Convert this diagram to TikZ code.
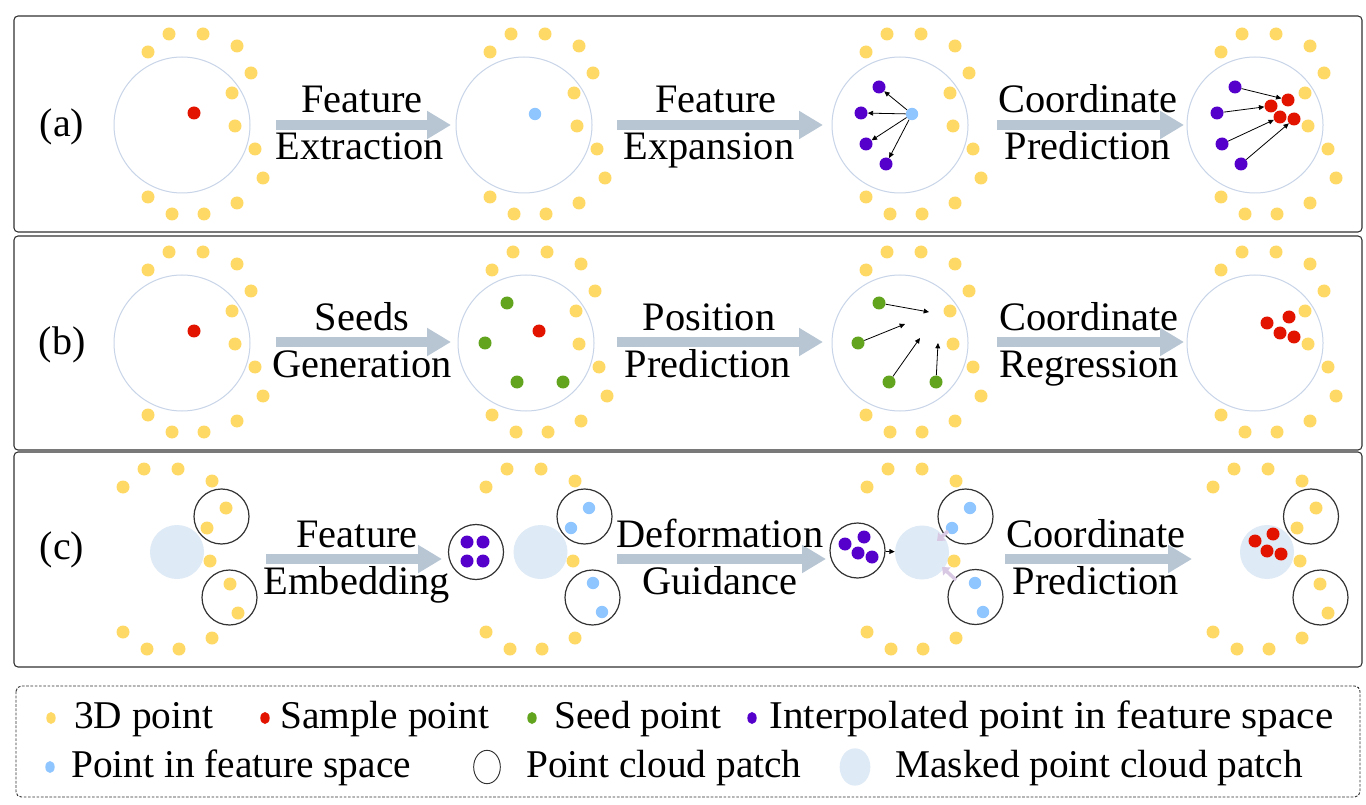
\documentclass[tikz,border=0pt]{standalone}
\usepackage{fontspec}
\setmainfont{Liberation Serif}
\usetikzlibrary{arrows.meta,shapes.geometric}
\definecolor{cyel}{RGB}{255,217,102}
\definecolor{cred}{RGB}{226,20,0}
\definecolor{cgreen}{RGB}{99,164,30}
\definecolor{cpurp}{RGB}{86,0,204}
\definecolor{cblue}{RGB}{143,198,255}
\definecolor{cmask}{RGB}{222,234,246}
\definecolor{cring}{RGB}{200,212,232}
\definecolor{carrow}{RGB}{184,198,212}
\definecolor{clav}{RGB}{216,200,228}
\definecolor{cdark}{RGB}{50,50,50}
\def\ringall{1/-34/-73,2/-13/-91,3/21/-91,4/55/-79,5/69/-52,6/50/-32,7/53/1,8/73/24,9/81/53,10/55/78,11/22/89,12/-10/89,13/-34/72}
\def\ringpart{1/-34/-73,2/-13/-91,3/21/-91,4/55/-79,7/53/1,10/55/78,11/22/89,12/-10/89,13/-34/72}
\newcommand\yring[2]{\foreach \i/\dx/\dy in #2 {\node[ydot] (#1y\i) at (\dx,\dy) {};}}
\begin{document}
\begin{tikzpicture}[x=0.75pt,y=-0.75pt,
  dot/.style={circle, inner sep=0pt, minimum size=9.75pt},
  ydot/.style={dot, fill=cyel},
  rdot/.style={dot, fill=cred},
  gdot/.style={dot, fill=cgreen},
  pdot/.style={dot, fill=cpurp},
  bdot/.style={dot, fill=cblue, minimum size=9.3pt},
  bigc/.style={circle, draw=cring, line width=0.75pt, minimum size=102pt, inner sep=0pt},
  patch/.style={circle, draw=cdark, line width=0.9pt, minimum size=41.25pt, inner sep=0pt},
  masked/.style={circle, fill=cmask, minimum size=40.5pt, inner sep=0pt},
  bigarrow/.style={draw=carrow, line width=7pt, -{Triangle[length=18pt,width=20pt]}},
  sarrow/.style={draw=black, line width=0.6pt, -{Triangle[length=4pt,width=3.6pt]}},
  lavarrow/.style={draw=clav, line width=2.6pt, -{Triangle[length=5pt,width=8pt]}},
  lbl/.style={font=\fontsize{30.3}{36}\selectfont, anchor=base, inner sep=0pt},
  plabel/.style={font=\fontsize{30}{36}\selectfont, inner sep=0pt},
  leg/.style={font=\fontsize{29.5}{35}\selectfont, anchor=base west, inner sep=0pt},
  legdot/.style={ellipse, inner sep=0pt, minimum width=7pt, minimum height=9pt},
  panel/.style={draw=cdark, rounded corners=3pt, line width=0.8pt},
  legbox/.style={draw=cdark, rounded corners=4pt, line width=0.7pt, dash pattern=on 2pt off 1.2pt}
]
\useasboundingbox (0,0) rectangle (1366,805);
\fill[white] (0,0) rectangle (1366,805);

% panel frames
\draw[panel] (14,16) rectangle (1362,232);
\draw[panel] (14,236) rectangle (1362,450);
\draw[panel] (14,452) rectangle (1362,667);
\node[plabel] (la) at (62,127) {(a)};
\node[plabel] (lb) at (62,345) {(b)};
\node[plabel] (lc) at (62,550) {(c)};

% ================= panel (a)
\begin{scope}[shift={(182,125)}]
  \node[bigc] (a1c) at (0,0) {};
  \yring{a1}{\ringall}
  \node[rdot] (a1r) at (12,-12) {};
\end{scope}
\begin{scope}[shift={(524,125)}]
  \node[bigc] (a2c) at (0,0) {};
  \yring{a2}{\ringall}
  \node[bdot] (a2b) at (11,-11) {};
\end{scope}
\begin{scope}[shift={(900,125)}]
  \node[bigc] (a3c) at (0,0) {};
  \yring{a3}{\ringall}
  \node[bdot] (a3b) at (12,-11) {};
  \node[pdot] (a3p1) at (-21,-38) {};
  \node[pdot] (a3p2) at (-39,-12) {};
  \node[pdot] (a3p3) at (-34,19) {};
  \node[pdot] (a3p4) at (-14,39) {};
\end{scope}
\foreach \k in {1,...,4} {\draw[sarrow] (a3b) -- (a3p\k);}
\begin{scope}[shift={(1255,125)}]
  \node[bigc] (a4c) at (0,0) {};
  \yring{a4}{\ringall}
  \node[pdot] (a4p1) at (-20,-38) {};
  \node[pdot] (a4p2) at (-38,-12) {};
  \node[pdot] (a4p3) at (-33,19) {};
  \node[pdot] (a4p4) at (-14,39) {};
  \node[rdot] (a4r1) at (33,-25) {};
  \node[rdot] (a4r2) at (16,-19) {};
  \node[rdot] (a4r3) at (25,-8) {};
  \node[rdot] (a4r4) at (39,-6) {};
\end{scope}
\foreach \k in {1,...,4} {\draw[sarrow] (a4p\k) -- (a4r\k);}

\coordinate (a1s) at (276,125); \coordinate (a1e) at (451,125);
\coordinate (a2s) at (617,125); \coordinate (a2e) at (823,125);
\coordinate (a3s) at (997,125); \coordinate (a3e) at (1184,125);
\draw[bigarrow] (a1s) -- (a1e);
\draw[bigarrow] (a2s) -- (a2e);
\draw[bigarrow] (a3s) -- (a3e);
\node[lbl] (ta1) at (362,113) {Feature};
\node[lbl] (tb1) at (360,160) {Extraction};
\node[lbl] (ta2) at (716,113) {Feature};
\node[lbl] (tb2) at (709,160) {Expansion};
\node[lbl] (ta3) at (1088,113) {Coordinate};
\node[lbl] (tb3) at (1088,160) {Prediction};

% ================= panel (b)
\begin{scope}[shift={(182,343)}]
  \node[bigc] (b1c) at (0,0) {};
  \yring{b1}{\ringall}
  \node[rdot] (b1r) at (12,-12) {};
\end{scope}
\begin{scope}[shift={(526,343)}]
  \node[bigc] (b2c) at (0,0) {};
  \yring{b2}{\ringall}
  \node[rdot] (b2r) at (13,-12) {};
  \node[gdot] (b2g1) at (-19,-40) {};
  \node[gdot] (b2g2) at (-41,0) {};
  \node[gdot] (b2g3) at (-9,39) {};
  \node[gdot] (b2g4) at (37,39) {};
\end{scope}
\begin{scope}[shift={(900,343)}]
  \node[bigc] (b3c) at (0,0) {};
  \yring{b3}{\ringall}
  \node[gdot] (b3g1) at (-21,-40) {};
  \node[gdot] (b3g2) at (-42,0) {};
  \node[gdot] (b3g3) at (-11,39) {};
  \node[gdot] (b3g4) at (36,39) {};
  \coordinate (b3t1) at (29,-31);
  \coordinate (b3t2) at (5,-19);
  \coordinate (b3t3) at (20,-5);
  \coordinate (b3t4) at (38,0);
\end{scope}
\foreach \k in {1,...,4} {\draw[sarrow] (b3g\k) -- (b3t\k);}
\begin{scope}[shift={(1255,343)}]
  \node[bigc] (b4c) at (0,0) {};
  \yring{b4}{\ringall}
  \node[rdot] (b4r1) at (12,-20) {};
  \node[rdot] (b4r2) at (34,-26) {};
  \node[rdot] (b4r3) at (25,-10) {};
  \node[rdot] (b4r4) at (39,-6) {};
\end{scope}

\coordinate (b1s) at (276,342); \coordinate (b1e) at (451,342);
\coordinate (b2s) at (617,342); \coordinate (b2e) at (823,342);
\coordinate (b3s) at (997,342); \coordinate (b3e) at (1184,342);
\draw[bigarrow] (b1s) -- (b1e);
\draw[bigarrow] (b2s) -- (b2e);
\draw[bigarrow] (b3s) -- (b3e);
\node[lbl] (tc1) at (362,330) {Seeds};
\node[lbl] (td1) at (362,377) {Generation};
\node[lbl] (tc2) at (709,330) {Position};
\node[lbl] (td2) at (708,377) {Prediction};
\node[lbl] (tc3) at (1089,330) {Coordinate};
\node[lbl] (td3) at (1089,377) {Regression};

% ================= panel (c)
\begin{scope}[shift={(157,560)}]
  \node[masked] (c1m) at (20,-8) {};
  \yring{c1}{\ringall}
  \node[patch] (c1u) at (64.5,-43.5) {};
  \node[patch] (c1l) at (72.5,37.5) {};
\end{scope}
\begin{scope}[shift={(520,560)}]
  \node[masked] (c2m) at (20.5,-8) {};
  \yring{c2}{\ringpart}
  \node[bdot] (c2b1) at (69,-52) {};
  \node[bdot] (c2b2) at (51,-32) {};
  \node[bdot] (c2b3) at (73,23) {};
  \node[bdot] (c2b4) at (82,52) {};
  \node[patch] (c2u) at (64.5,-43.5) {};
  \node[patch] (c2l) at (72.5,37.5) {};
  \node[patch] (c2pp) at (-44,-8) {};
  \node[pdot] (c2p1) at (-53,-18) {};
  \node[pdot] (c2p2) at (-37,-18) {};
  \node[pdot] (c2p3) at (-53,1) {};
  \node[pdot] (c2p4) at (-37,1) {};
\end{scope}
\begin{scope}[shift={(901,560)}]
  \node[masked] (c3m) at (21,-7.5) {};
  \yring{c3}{\ringpart}
  \node[bdot] (c3b1) at (69,-52) {};
  \node[bdot] (c3b2) at (51,-32) {};
  \node[bdot] (c3b3) at (74,23) {};
  \node[bdot] (c3b4) at (82,52) {};
  \node[patch] (c3u) at (64.5,-43.5) {};
  \node[patch] (c3l) at (74.5,37) {};
  \node[patch] (c3pp) at (-43.5,-9.5) {};
  \node[pdot] (c3p1) at (-56,-16) {};
  \node[pdot] (c3p2) at (-37,-23) {};
  \node[pdot] (c3p3) at (-43,-7) {};
  \node[pdot] (c3p4) at (-29,-3) {};
  \coordinate (c3la) at (47,-29);
  \coordinate (c3lb) at (36,-19);
  \coordinate (c3lc) at (55,20);
  \coordinate (c3ld) at (41,7);
\end{scope}
\draw[sarrow] (c3pp) -- (c3m);
\draw[lavarrow] (c3la) -- (c3lb);
\draw[lavarrow] (c3lc) -- (c3ld);
\begin{scope}[shift={(1247,560)}]
  \node[masked] (c4m) at (20,-8) {};
  \yring{c4}{\ringall}
  \node[rdot] (c4r1) at (8,-19) {};
  \node[rdot] (c4r2) at (26,-26) {};
  \node[rdot] (c4r3) at (20,-9) {};
  \node[rdot] (c4r4) at (34,-6) {};
  \node[patch] (c4u) at (64,-43.5) {};
  \node[patch] (c4l) at (73.5,37.5) {};
\end{scope}

\coordinate (c1s) at (266,559); \coordinate (c1e) at (442,559);
\coordinate (c2s) at (617,559); \coordinate (c2e) at (826,559);
\coordinate (c3s) at (1005,559); \coordinate (c3e) at (1192,559);
\draw[bigarrow] (c1s) -- (c1e);
\draw[bigarrow] (c2s) -- (c2e);
\draw[bigarrow] (c3s) -- (c3e);
\node[lbl] (te1) at (357,547) {Feature};
\node[lbl] (tf1) at (357,594) {Embedding};
\node[lbl] (te2) at (720,547) {Deformation};
\node[lbl] (tf2) at (720,594) {Guidance};
\node[lbl] (te3) at (1096,547) {Coordinate};
\node[lbl] (tf3) at (1096,594) {Prediction};

% ================= legend
\draw[legbox] (16,686) rectangle (1360,797);
\node[legdot, fill=cyel] (g1) at (51,718) {};
\node[leg] (g1t) at (74,728) {3D point};
\node[legdot, fill=cred] (g2) at (265,718) {};
\node[leg] (g2t) at (280,728) {Sample point};
\node[legdot, fill=cgreen] (g3) at (532,718) {};
\node[leg] (g3t) at (554,728) {Seed point};
\node[legdot, fill=cpurp] (g4) at (752,718) {};
\node[leg] (g4t) at (769,728) {\scalebox{1.05}[1]{Interpolated point in feature space}};
\node[legdot, fill=cblue] (g5) at (50,767) {};
\node[leg] (g5t) at (71,777) {Point in feature space};
\node[ellipse, draw=cdark, line width=0.7pt, inner sep=0pt, minimum width=20pt, minimum height=25pt] (g6) at (487,767) {};
\node[leg] (g6t) at (526,777) {Point cloud patch};
\node[ellipse, fill=cmask, inner sep=0pt, minimum width=23pt, minimum height=28pt] (g7) at (855,767) {};
\node[leg] (g7t) at (895,777) {Masked point cloud patch};
\end{tikzpicture}
\end{document}
